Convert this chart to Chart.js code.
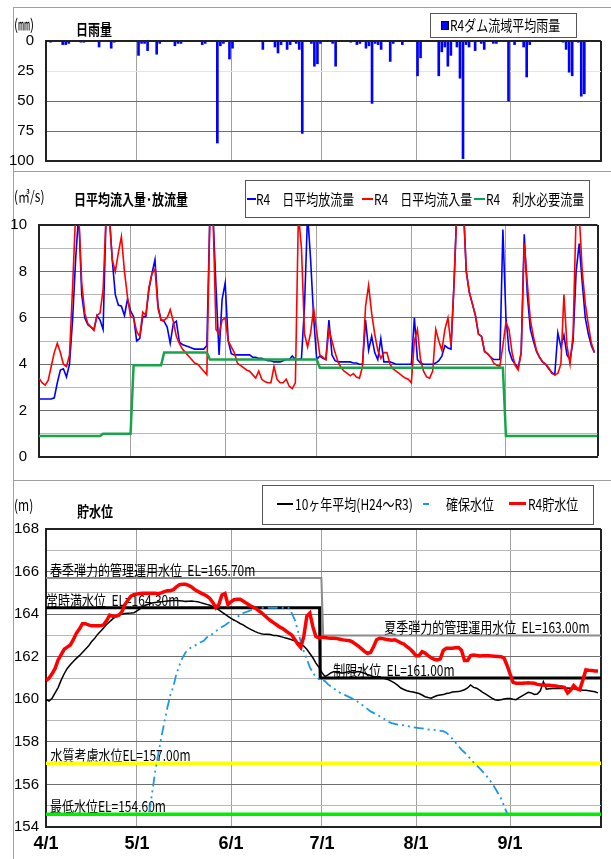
<!DOCTYPE html>
<html>
<head>
<meta charset="utf-8">
<script src="https://cdn.jsdelivr.net/npm/chart.js@4.4.0/dist/chart.umd.min.js"></script>
<style>
body { margin: 0; width: 611px; height: 859px; overflow: hidden; background: #fff; position: relative; font-family: "Noto Sans CJK JP", sans-serif; }
canvas { position: absolute; left: 0; }
.frame { position: absolute; left: 13px; width: 640px; border: 1px solid #a0a0a0; }
.t { position: absolute; white-space: nowrap; height: 20px; line-height: 20px; font-size: 15px; color: #000; transform-origin: 0 50%; transform: scaleX(0.8); }
.b { font-weight: bold; }
.legend { position: absolute; border: 1px solid #555; background: #fff; }
.mk { position: absolute; }
</style>
</head>
<body>
<div class="frame" style="top:7px;height:163px"></div>
<div class="frame" style="top:171px;height:308px"></div>
<div class="frame" style="top:480px;height:400px"></div>

<canvas id="rain" width="611" height="200"></canvas>
<canvas id="flow" width="611" height="320"></canvas>
<canvas id="level" width="611" height="400"></canvas>

<!-- titles -->
<div class="t" style="left:14px;top:14px">(㎜)</div>
<div class="t b" style="left:76px;top:19px">日雨量</div>
<div class="t" style="left:14px;top:186px">(㎥/s)</div>
<div class="t b" style="left:74px;top:189px">日平均流入量･放流量</div>
<div class="t" style="left:14px;top:495px">(m)</div>
<div class="t b" style="left:77px;top:501px">貯水位</div>

<!-- legends -->
<div class="legend" style="left:430px;top:13px;width:145px;height:23px"></div>
<div class="mk" style="left:441px;top:21px;width:6px;height:7px;background:#0000ff;border:1px solid #000"></div>
<div class="t" style="left:450px;top:15px">R4ダム流域平均雨量</div>

<div class="legend" style="left:245px;top:180px;width:343px;height:36px"></div>
<div class="mk" style="left:247px;top:198px;width:9px;height:2px;background:#0000ff"></div>
<div class="t" style="left:256px;top:189px">R4　日平均放流量</div>
<div class="mk" style="left:362px;top:198px;width:11px;height:2px;background:#ff0000"></div>
<div class="t" style="left:374px;top:189px">R4　日平均流入量</div>
<div class="mk" style="left:474px;top:198px;width:11px;height:2px;background:#00a651"></div>
<div class="t" style="left:486px;top:189px">R4　利水必要流量</div>

<div class="legend" style="left:262px;top:485px;width:330px;height:38px"></div>
<div class="mk" style="left:277px;top:503px;width:16px;height:2px;background:#000"></div>
<div class="t" style="left:295px;top:494px">10ヶ年平均(H24～R3)</div>
<div class="mk" style="left:423px;top:503px;width:6px;height:2px;background:#1e96e6"></div>
<div class="t" style="left:446px;top:494px">確保水位</div>
<div class="mk" style="left:509px;top:502px;width:17px;height:3px;background:#ff0000"></div>
<div class="t" style="left:528px;top:494px">R4貯水位</div>

<script>
// days from 4/1 (day 0) to 9/30 (day 182)
const monthStart = [0, 30, 61, 91, 122, 153, 183];
const monthLabel = ['4/1', '5/1', '6/1', '7/1', '8/1', '9/1', ''];

// daily rainfall (mm), only days with rain
const rainDay = [1, 5, 6, 7, 11, 12, 17, 21, 22, 30, 31, 32, 33, 36, 37, 42, 43, 44, 51, 52,
  56, 57, 58, 60, 61, 71, 75, 76, 77, 79, 80, 82, 83, 84, 87, 88, 89, 90, 94, 95,
  100, 102, 103, 105, 106, 107, 108, 109, 110, 113, 114, 117, 122, 123, 129, 130, 131, 132, 133, 135,
  136, 137, 138, 139, 141, 143, 144, 147, 148, 152, 154, 157, 158, 159, 170, 171, 172, 173, 175, 176, 177];
const rainMm = [1, 3, 3, 2, 1, 1, 5, 6, 1, 12, 2, 2, 8, 11, 2, 4, 2, 2, 3, 2,
  85, 4, 2, 15, 6, 7, 5, 10, 3, 7, 3, 2, 7, 77, 2, 21, 19, 2, 2, 21,
  1, 3, 2, 6, 4, 52, 2, 3, 7, 17, 2, 3, 29, 14, 29, 9, 5, 21, 12, 5,
  31, 98, 3, 5, 8, 2, 7, 2, 2, 50, 3, 5, 30, 3, 1, 7, 26, 29, 1, 46, 44];

// daily mean outflow (m3/s)
const outflow = [
  2.5, 2.5, 2.5, 2.5, 2.5, 2.55, 3.2, 3.75, 3.8, 3.45,
  4.0, 5.9, 8.5, 10.5, 7.0, 6.0, 5.7, 5.6, 5.5, 6.1,
  5.9, 5.5, 10.5, 10.5, 8.5, 7.0, 6.55, 6.5, 6.1, 6.8,
  6.3, 6.05, 5.0, 5.1, 6.05, 6.05, 7.2, 7.9, 8.5, 6.5,
  5.9, 5.85, 5.6, 4.9, 5.75, 5.85, 4.95, 4.85, 4.8, 4.75,
  4.7, 4.65, 4.65, 4.65, 4.65, 4.8, 10.5, 10.5, 7.3, 4.4,
  6.8, 7.5, 5.0, 4.45, 4.4, 4.4, 4.4, 4.4, 4.4, 4.4,
  4.3, 4.3, 4.25, 4.25, 4.2, 4.15, 4.15, 4.1, 4.1, 4.1,
  4.15, 4.2, 4.2, 4.35, 4.2, 4.2, 4.25, 6.5, 10.5, 8.5,
  6.0, 4.2, 4.35, 4.25, 4.2, 5.9, 4.4, 4.15, 4.1, 4.1,
  4.1, 4.1, 4.1, 4.05, 4.05, 4.0, 4.0, 5.9, 4.6, 5.2,
  4.5, 4.2, 5.1, 4.1, 4.1, 4.1, 4.05, 4.0, 4.0, 4.0,
  4.0, 4.0, 4.0, 6.0, 4.2, 4.05, 4.0, 4.0, 4.0, 4.0,
  4.05, 4.15, 4.35, 4.8, 4.7, 4.65, 7.5, 11, 11, 11,
  8.0, 7.1, 6.6, 6.1, 5.3, 5.2, 4.55, 4.45, 4.3, 4.2,
  4.2, 4.2, 9.8, 6.0, 4.6, 4.2, 4.0, 3.85, 4.5, 9.6,
  7.0, 5.5, 5.0, 4.55, 4.3, 4.1, 4.0, 3.8, 3.65, 3.55,
  5.35, 4.75, 5.25, 4.4, 4.2, 5.0, 8.0, 9.2, 7.5, 6.0,
  5.3, 4.8, 4.5];

// daily mean inflow (m3/s)
const inflow = [
  3.4, 3.2, 3.1, 3.3, 3.9, 4.5, 4.9, 4.5, 4.0, 3.9,
  4.4, 7.3, 10.5, 10.5, 7.5, 6.2, 5.75, 5.6, 5.45, 6.1,
  6.2, 7.2, 10.5, 10.5, 8.5, 8.0, 8.8, 9.5, 8.0, 6.9,
  6.05, 6.0, 5.4, 5.2, 6.25, 6.1, 7.3, 7.9, 8.1, 6.4,
  5.9, 5.9, 6.0, 6.35, 5.85, 5.2, 4.9, 4.65, 4.5, 4.35,
  4.2, 4.05, 4.0, 3.85, 3.7, 3.55, 10.5, 10.5, 5.5, 5.3,
  5.9, 6.0, 5.0, 4.75, 4.5, 4.05, 3.95, 3.85, 3.75, 3.7,
  3.55, 3.4, 3.7, 3.35, 3.25, 3.2, 3.2, 3.9, 3.35, 3.2,
  3.2, 3.35, 3.05, 2.95, 3.2, 10.5, 9.0, 5.3, 4.75, 5.35,
  6.4, 5.4, 4.4, 4.3, 4.2, 5.5, 5.0, 4.5, 4.1, 3.85,
  3.7, 3.6, 3.5, 3.6, 3.45, 3.4, 3.9, 6.5, 7.4, 6.2,
  5.3, 4.6, 4.25, 4.5, 4.5, 4.0, 3.8, 3.7, 3.6, 3.5,
  3.4, 3.35, 3.2, 5.0, 5.5, 4.2, 3.7, 3.45, 3.4, 3.7,
  5.5, 5.0, 4.6, 5.5, 6.0, 4.8, 7.5, 11, 11, 11,
  8.0, 7.1, 6.6, 6.1, 5.3, 5.2, 4.55, 4.45, 4.3, 4.05,
  3.95, 3.9, 4.8, 5.8, 5.5, 4.5, 3.95, 3.75, 4.5, 9.2,
  7.5, 5.9, 5.2, 4.6, 4.3, 4.1, 4.0, 3.85, 3.6, 3.55,
  3.6, 4.0, 7.0, 4.8, 4.0, 5.3, 10.5, 10.5, 8.0, 6.6,
  5.7, 4.9, 4.5];

// required flow for water use (step changes)
const reqDay = [0, 20, 21, 30, 31, 40, 41, 55, 56, 91, 92, 152, 153, 183];
const reqFlow = [0.9, 0.9, 1.0, 1.0, 3.95, 3.95, 4.5, 4.5, 4.2, 4.2, 3.85, 3.85, 0.9, 0.9];

// R4 reservoir level (EL m)
const levelR4 = [
  160.87, 161.0, 161.2, 161.45, 161.85, 162.1, 162.35, 162.45, 162.55, 162.8,
  163.1, 163.3, 163.55, 163.55, 163.5, 163.45, 163.45, 163.45, 163.45, 163.5,
  163.7, 163.95, 163.9, 163.9, 163.95, 164.1, 164.45, 164.65, 164.85, 164.92,
  164.95, 164.97, 164.98, 164.98, 164.98, 164.98, 164.98, 164.96, 165.0, 165.06,
  165.1, 165.1, 165.15, 165.28, 165.38, 165.4, 165.4, 165.35, 165.28, 165.16,
  165.08, 165.0, 164.93, 164.85, 164.74, 164.55, 164.3, 164.45, 164.9, 164.97,
  164.45, 164.58, 164.68, 164.7, 164.7, 164.62, 164.52, 164.43, 164.35, 164.28,
  164.18, 164.07, 163.95, 163.82, 163.7, 163.6, 163.5, 163.4, 163.33, 163.22,
  163.12, 163.02, 162.82, 162.6, 162.43, 162.95, 163.9, 164.05, 163.4, 162.95,
  162.88, 162.92, 162.9, 162.88, 162.87, 162.87, 162.85, 162.82, 162.79, 162.77,
  162.76, 162.7, 162.6, 162.5, 162.38, 162.25, 162.16, 162.2, 162.47, 162.8,
  162.87, 162.85, 162.82, 162.8, 162.78, 162.8, 162.73, 162.65, 162.6, 162.47,
  162.37, 162.22, 162.05, 162.05, 162.24, 162.17, 162.05, 161.95, 161.88, 161.85,
  161.9, 162.3, 162.4, 162.4, 162.4, 162.42, 162.43, 162.3, 161.82, 161.82,
  162.05, 162.08, 162.06, 162.03, 162.04, 162.05, 162.04, 162.03, 162.02, 162.01,
  162.0, 161.95, 161.6, 161.2, 160.8, 160.75, 160.75, 160.75, 160.76, 160.78,
  160.76, 160.75, 160.7, 160.68, 160.67, 160.66, 160.66, 160.64, 160.62, 160.6,
  160.59, 160.55, 160.3, 160.43, 160.65, 160.5, 160.45, 160.9, 161.38, 161.36,
  161.35, 161.33, 161.33];

// 10-year average level H24-R3 (EL m)
const levelAvg = [
  160.0, 159.92, 160.05, 160.3, 160.55, 160.9, 161.2, 161.45, 161.62, 161.78,
  161.92, 162.05, 162.2, 162.35, 162.5, 162.7, 162.85, 163.05, 163.2, 163.35,
  163.52, 163.65, 163.78, 163.88, 163.96, 164.0, 164.03, 164.04, 164.05, 164.07,
  164.15, 164.25, 164.37, 164.43, 164.48, 164.52, 164.55, 164.57, 164.58, 164.6,
  164.62, 164.63, 164.64, 164.64, 164.63, 164.62, 164.6, 164.61, 164.62, 164.6,
  164.58, 164.54, 164.5, 164.46, 164.42, 164.35, 164.28, 164.2, 164.1, 164.0,
  163.9, 163.8, 163.72, 163.65, 163.56, 163.5, 163.4, 163.32, 163.25, 163.18,
  163.12, 163.08, 163.05, 163.06, 163.04, 163.0, 163.0, 162.96, 162.92, 162.88,
  162.84, 162.8, 162.75, 162.67, 162.6, 162.5, 162.35, 162.15, 161.95, 161.7,
  161.5, 161.25, 161.07, 161.15, 161.25, 161.3, 161.25, 161.25, 161.24, 161.27,
  161.3, 161.26, 161.28, 161.3, 161.27, 161.22, 161.16, 161.12, 161.06, 161.02,
  161.0, 161.0, 160.96, 160.91, 160.84, 160.76, 160.65, 160.53, 160.46, 160.4,
  160.37, 160.34, 160.31, 160.27, 160.2, 160.12, 160.08, 160.05, 160.12, 160.18,
  160.2, 160.22, 160.27, 160.3, 160.34, 160.35, 160.36, 160.4, 160.45, 160.53,
  160.67, 160.56, 160.52, 160.43, 160.33, 160.24, 160.15, 160.05, 159.98, 159.96,
  159.98, 160.01, 160.04, 160.04, 160.0, 159.98, 160.08, 160.16, 160.24, 160.33,
  160.3, 160.23, 160.25, 160.4, 160.83, 160.48, 160.5, 160.51, 160.51, 160.51,
  160.51, 160.52, 160.53, 160.52, 160.49, 160.47, 160.45, 160.43, 160.42, 160.4,
  160.38, 160.35, 160.3];

// secured level, from day 34 to day 152
const securedStart = 34;
const securedLevel = [
  154.7, 155.6, 156.6, 157.4, 158.2, 158.9, 159.6, 160.2, 160.6, 161.2,
  161.6, 161.95, 162.2, 162.35, 162.45, 162.52, 162.6, 162.68, 162.75, 162.9,
  163.0, 163.08, 163.2, 163.3, 163.4, 163.48, 163.58, 163.66, 163.75, 163.85,
  163.97, 164.05, 164.1, 164.15, 164.22, 164.25, 164.28, 164.3, 164.3, 164.3,
  164.3, 164.3, 164.3, 164.3, 164.3, 164.3, 164.3, 164.05, 163.75, 163.25,
  162.7, 162.25, 161.9, 161.5, 161.25, 161.05, 160.95, 160.95, 160.85, 160.7,
  160.6, 160.5, 160.4, 160.3, 160.25, 160.17, 160.1, 160.03, 159.96, 159.86,
  159.76, 159.65, 159.55, 159.43, 159.36, 159.28, 159.2, 159.13, 159.03, 158.94,
  158.88, 158.84, 158.81, 158.79, 158.77, 158.75, 158.72, 158.69, 158.67, 158.65,
  158.63, 158.61, 158.58, 158.57, 158.56, 158.54, 158.52, 158.5, 158.43, 158.3,
  158.14, 157.97, 157.8, 157.64, 157.5, 157.35, 157.2, 157.04, 156.9, 156.75,
  156.6, 156.45, 156.26, 156.06, 155.85, 155.6, 155.35, 155.0, 154.65];

// management levels
const flexDay = [0, 90.8, 91.4, 183];
const flexEL = [165.7, 165.7, 163.0, 163.0];
const normalDay = [0, 90.2, 90.4, 183];
const normalEL = [164.3, 164.3, 161.0, 161.0];
const qualityEL = 157.0;
const minEL = 154.6;

const levelNames = ['春季弾力的管理運用水位  EL=165.70m', '常時満水位  EL=164.30m',
  '夏季弾力的管理運用水位  EL=163.00m', '制限水位  EL=161.00m',
  '水質考慮水位EL=157.00m', '最低水位EL=154.60m'];
const labelDay = [1.3, 0, 111.5, 94.7, 1.5, 1.3];
const labelEL = [165.7, 164.3, 163.0, 161.0, 157.0, 154.6];

const tickFont = { family: '"Liberation Sans Narrow", "Liberation Sans", sans-serif', size: 15 };

function xAxis(showLabels) {
    return {
        type: 'linear', min: 0, max: 183, offset: false,
        afterBuildTicks: axis => { axis.ticks = monthStart.map(v => ({ value: v })); },
        afterFit: axis => { axis.height = showLabels ? 32 : 0; },
        ticks: {
            display: showLabels, autoSkip: false, maxRotation: 0, padding: 6,
            color: '#000', font: { family: tickFont.family, size: 18, weight: 'bold' },
            callback: v => monthLabel[monthStart.indexOf(v)]
        },
        grid: {
            offset: false,
            drawTicks: false,
            color: c => c.tick && c.tick.value === 183 ? '#222' : '#a0a0a0',
            lineWidth: c => c.tick && c.tick.value === 183 ? 2 : 1
        },
        border: { color: '#222', width: 2 }
    };
}

function yGrid(top, light) {
    return {
        drawTicks: false,
        color: c => c.tick.value === top ? '#222' : (light(c.tick.value) ? '#b8b8b8' : '#6e6e6e'),
        lineWidth: c => c.tick.value === top ? 2 : 1
    };
}

const baseOpts = {
    responsive: false, animation: false, events: [],
    plugins: { legend: { display: false }, tooltip: { enabled: false } }
};

// draw once, measure the plot area, then size/place the canvas so the plot lands where wanted
function place(id, want, makeConfig) {
    const canvas = document.getElementById(id);
    let chart = new Chart(canvas, makeConfig());
    const topOff = chart.chartArea.top;
    const gap = canvas.height - chart.chartArea.bottom;
    chart.destroy();
    const top = want.top - topOff;
    canvas.style.top = top + 'px';
    canvas.height = Math.round(want.bottom - top + gap);
    return new Chart(canvas, makeConfig());
}

// rainfall
place('rain', { top: 41, bottom: 161 }, () => ({
    type: 'bar',
    data: {
        datasets: [{
            data: rainDay.map((d, i) => ({ x: d + 0.5, y: rainMm[i] })),
            backgroundColor: '#0000ff', barThickness: 2
        }]
    },
    options: {
        ...baseOpts,
        layout: { padding: { top: 30, bottom: 0, left: 0, right: 10 } },
        scales: {
            x: xAxis(false),
            y: {
                reverse: true, min: 0, max: 100,
                afterFit: axis => { axis.width = 46; },
                ticks: { stepSize: 25, color: '#000', font: tickFont, padding: 12 },
                grid: {
                    drawTicks: false,
                    color: c => c.tick.value === 0 ? '#222' : (c.tick.value === 25 ? '#e4e4e4' : '#6e6e6e'),
                    lineWidth: c => c.tick.value === 0 ? 2 : 1
                },
                border: { color: '#222', width: 2 }
            }
        }
    }
}));

// inflow / outflow
place('flow', { top: 225, bottom: 457 }, () => ({
    type: 'line',
    data: {
        datasets: [
            { data: outflow.map((v, d) => ({ x: d, y: v })), borderColor: '#0000ff', borderWidth: 1.6, pointRadius: 0, order: 2 },
            { data: inflow.map((v, d) => ({ x: d, y: v })), borderColor: '#ff0000', borderWidth: 1.6, pointRadius: 0, order: 1 },
            { data: reqDay.map((d, i) => ({ x: d, y: reqFlow[i] })), borderColor: '#1aa34a', borderWidth: 2.5, pointRadius: 0, order: 0 }
        ]
    },
    options: {
        ...baseOpts,
        layout: { padding: { top: 30, bottom: 0, left: 0, right: 13.5 } },
        scales: {
            x: xAxis(false),
            y: {
                min: 0, max: 10,
                afterFit: axis => { axis.width = 39; },
                ticks: { stepSize: 1, color: '#000', font: tickFont, padding: 12, callback: v => v % 2 === 0 ? v : '' },
                grid: yGrid(10, v => v % 2 === 1),
                border: { color: '#222', width: 2 }
            }
        }
    }
}));

// reservoir level labels drawn under the lines
const levelText = {
    id: 'levelText',
    beforeDatasetsDraw(chart) {
        const { ctx, scales: { x, y } } = chart;
        ctx.save();
        ctx.font = '15px "Noto Sans CJK JP"';
        ctx.fillStyle = '#000';
        ctx.textBaseline = 'alphabetic';
        levelNames.forEach((t, i) => {
            ctx.save();
            ctx.translate(x.getPixelForValue(labelDay[i]), y.getPixelForValue(labelEL[i]) - 2);
            ctx.scale(0.8, 1);
            ctx.fillText(t, 0, 0);
            ctx.restore();
        });
        ctx.restore();
    }
};

place('level', { top: 529, bottom: 827 }, () => ({
    type: 'line',
    data: {
        datasets: [
            { data: levelR4.map((v, d) => ({ x: d, y: v })), borderColor: '#ff0000', borderWidth: 3.5, pointRadius: 0 },
            { data: levelAvg.map((v, d) => ({ x: d, y: v })), borderColor: '#000', borderWidth: 1.5, pointRadius: 0 },
            { data: securedLevel.map((v, i) => ({ x: securedStart + i, y: v })), borderColor: '#1e96e6', borderWidth: 1.8,
              borderDash: [10, 4, 2, 4, 2, 4], pointRadius: 0 },
            { data: normalDay.map((d, i) => ({ x: d, y: normalEL[i] })), borderColor: '#000', borderWidth: 3, pointRadius: 0 },
            { data: flexDay.map((d, i) => ({ x: d, y: flexEL[i] })), borderColor: '#8c8c8c', borderWidth: 2, pointRadius: 0 },
            { data: [{ x: 0, y: qualityEL }, { x: 183, y: qualityEL }], borderColor: '#ffff00', borderWidth: 3.5, pointRadius: 0 },
            { data: [{ x: 0, y: minEL }, { x: 183, y: minEL }], borderColor: '#00ee00', borderWidth: 3.5, pointRadius: 0 }
        ]
    },
    options: {
        ...baseOpts,
        layout: { padding: { top: 30, bottom: 0, left: 0, right: 10 } },
        scales: {
            x: xAxis(true),
            y: {
                min: 154, max: 168,
                afterFit: axis => { axis.width = 46; },
                ticks: { stepSize: 1, color: '#000', font: tickFont, padding: 7, callback: v => v % 2 === 0 ? v : '' },
                grid: yGrid(168, v => v % 2 === 1),
                border: { color: '#222', width: 2 }
            }
        }
    },
    plugins: [levelText]
}));
</script>
</body>
</html>
